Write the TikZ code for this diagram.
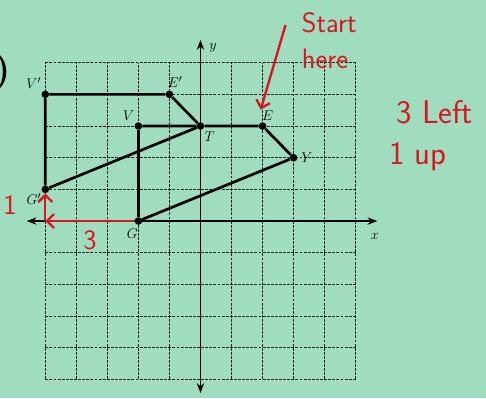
\documentclass[tikz,border=0pt]{standalone}
\usepackage{tikz}
\usetikzlibrary{arrows.meta, positioning, calc}
\definecolor{paper}{RGB}{160,221,190}
\definecolor{pen}{RGB}{214,22,32}

\begin{document}
\begin{tikzpicture}[x=0.931cm, y=0.950cm, every node/.style={font=\fontsize{13}{14}\selectfont},
  pt/.style={circle,fill=black,inner sep=0pt,minimum size=6.5pt},
  lbl/.style={font=\fontsize{13}{14}\selectfont, inner sep=1pt},
  gridline/.style={dash pattern=on 2.5pt off 1pt, black!85, line width=0.8pt},
  fig/.style={line width=2.3pt},
  ink/.style={pen, line width=2pt},
  hand/.style={pen, font=\sffamily\fontsize{24}{31}\selectfont}]
  \fill[paper] (-6.46,-5.59) rectangle (9.20,6.98);
  \useasboundingbox (-6.46,-5.59) rectangle (9.20,6.98);
  \foreach \k in {-5,...,-1,1,2,...,5}{
    \draw[gridline] (\k,-5) -- (\k,5);
    \draw[gridline] (-5,\k) -- (5,\k);
  }
  \draw[line width=1.2pt,{Stealth}-{Stealth}] (-5.6,0) -- (5.7,0);
  \draw[line width=1.2pt,{Stealth}-{Stealth}] (0,-5.43) -- (0,5.72);
  \node (xl) at (5.62,-0.5) {$x$};
  \node (yl) at (0.4,5.46) {$y$};
  \node (num) at (-6.38,4.7) {\fontsize{32}{32}\selectfont\bfseries )};

  \foreach \n/\p in {V/{-2,3},E/{2,3},Y/{3,2},G/{-2,0},T/{0,3},Vp/{-5,4},Ep/{-1,4},Gp/{-5,1}}{
    \node[pt] (\n) at (\p) {};
  }
  \draw[fig] (V) -- (T) -- (E) -- (Y) -- (G) -- (V);
  \draw[fig] (Vp) -- (Ep) -- (T) -- (Gp) -- (Vp);

  \node[lbl,above left=1pt and 0pt of Vp] (lVp) {$V'$};
  \node[lbl,above right=2pt and -5pt of Ep] (lEp) {$E'$};
  \node[lbl,above left=1pt and 0pt of V] (lV) {$V$};
  \node[lbl,below right=1pt and 0pt of T] (lT) {$T$};
  \node[lbl,above right=1pt and -4pt of E] (lE) {$E$};
  \node[lbl,right=2pt of Y] (lY) {$Y$};
  \node[lbl,below left=3pt and -3pt of G] (lG) {$G$};
  \node[lbl,below left=0pt and 0pt of Gp] (lGp) {$G'$};

  \node[hand,align=left] (start) at (4.15,5.7) {Start\\here};
  \coordinate (tail) at (2.74,6.19);
  \draw[ink,-{Straight Barb[length=6pt]}] (tail) -- (lE.north west);
  \node[hand,font=\sffamily\fontsize{28}{30}\selectfont] (left) at (7.55,3.44) {3 Left};
  \node[hand,font=\sffamily\fontsize{28}{30}\selectfont,anchor=west] (up) at (5.95,2.02) {1 up};
  \node[hand] (one) at (-6.14,0.5) {1};
  \node[hand] (three) at (-3.56,-0.6) {3};
  \coordinate (turn) at (-5,0);
  \draw[ink,-{Straight Barb[length=6pt]}] (G) -- (turn);
  \draw[ink,-{Straight Barb[length=6pt]}] (turn) -- (Gp);
\end{tikzpicture}
\end{document}
